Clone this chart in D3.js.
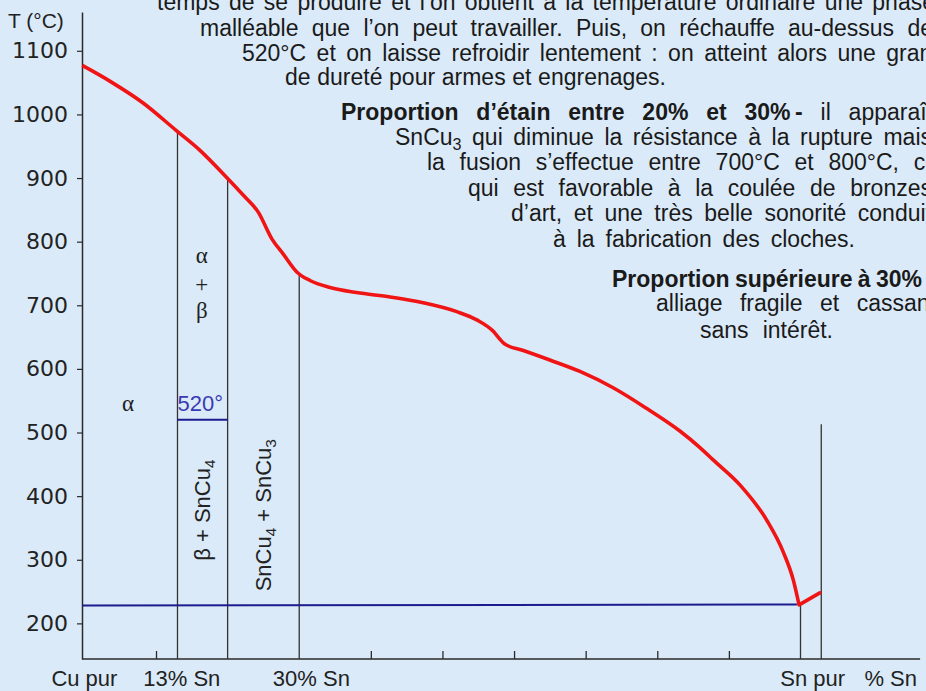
<!DOCTYPE html>
<html>
<head>
<meta charset="utf-8">
<script src="https://cdn.jsdelivr.net/npm/d3@7"></script>
<style>
body { margin: 0; background: #daeaf8; }
svg { display: block; }
</style>
</head>
<body>
<svg width="926" height="691"></svg>
<script>
// températures (°C) et proportions d'étain (%)
const tempTicks = [200, 300, 400, 500, 600, 700, 800, 900, 1000, 1100];
const pctTicks = [10, 40, 50, 60, 70, 80, 90];

// courbe du liquidus [% Sn, T]
const liquidus = [
    [-0.3, 1077], [3.6, 1052], [8.2, 1018], [12.8, 975], [16.1, 944], [19.7, 903],
    [22.2, 873], [24.3, 846], [26.2, 804], [27.8, 780], [29.7, 752], [31.5, 739],
    [34.3, 728], [38, 720], [42.7, 713], [47.3, 704], [52, 690], [54.8, 677],
    [57.1, 659], [58, 647], [58.7, 639], [61.3, 629], [65, 614], [69.2, 596],
    [73.9, 570], [78.5, 538], [83.2, 502], [86, 476], [87.8, 457], [91.6, 417],
    [95.3, 362], [97.6, 312], [99, 268], [99.8, 229]
];
// remontée après le point de fusion de l'étain
const tinBranch = [[99.8, 229], [102.7, 248]];

// lignes verticales [% Sn, T haut]
const phaseLines = [[13, 973], [20, 902], [30, 750], [100, 229], [102.9, 513]];
const eutectic = [[-0.3, 228], [99.5, 229.6]];
const line520 = [[13, 520], [20, 520]];

const xLabels = ["Cu pur", "13% Sn", "30% Sn", "Sn pur", "% Sn"];
const xLabelPct = [0, 13.6, 31.7, 101.7, 112.6];

const greekText = ["α", "α", "+", "β"];
const greekPos = [[6.1, 534], [16.4, 766], [16.4, 721], [16.4, 680]];

const rotatedText = [
    [["β + SnCu"], ["4", "sub"]],
    [["SnCu"], ["4", "sub"], [" + SnCu"], ["3", "sub"]]
];
const rotatedPos = [[16.4, 378], [24.9, 370]];

const textLines = [
    [["temps de se produire et l’on obtient à la température ordinaire une phase"]],
    [["malléable que l’on peut travailler. Puis, on réchauffe au-dessus de"]],
    [["520°C et on laisse refroidir lentement : on atteint alors une gran-"]],
    [["de dureté pour armes et engrenages."]],
    [["Proportion d’étain entre 20% et 30%\u2009-", "b"], [" il apparaît"]],
    [["SnCu"], ["3", "sub"], [" qui diminue la résistance à la rupture mais"]],
    [["la fusion s’effectue entre 700°C et 800°C, ce"]],
    [["qui est favorable à la coulée de bronzes"]],
    [["d’art, et une très belle sonorité conduit"]],
    [["à la fabrication des cloches."]],
    [["Proportion supérieure à 30%", "b"]],
    [["alliage fragile et cassant"]],
    [["sans intérêt."]]
];

// x début, ligne de base, x fin
const lineLayout = [
    [157, 10, 935], [200, 36, 933], [242, 61, 940], [285, 85, 666],
    [341, 120, 933], [395, 145, 932], [427, 170, 938], [468, 196, 932],
    [511, 221, 932], [553, 247, 855],
    [612, 287, 922], [656, 311, 936], [700, 338, 833]
];

const svg = d3.select("svg");

svg.append("rect")
    .attr("width", 926)
    .attr("height", 691)
    .attr("fill", "#daeaf8");

const x = d3.scaleLinear().domain([0, 100]).range([84.4, 800.5]);
const y = d3.scaleLinear().domain([144, 1161]).range([659, 12]);

// axe vertical
const yAxis = svg.append("g")
    .attr("transform", "translate(82,0)")
    .call(d3.axisLeft(y)
        .tickValues(tempTicks)
        .tickFormat(d3.format("d"))
        .tickSize(5)
        .tickPadding(9)
        .tickSizeOuter(0));

yAxis.select(".domain").attr("stroke", "#2a2a2a").attr("stroke-width", 1.5);
yAxis.selectAll(".tick line").attr("stroke", "#2a2a2a").attr("stroke-width", 1.2);
yAxis.selectAll("text")
    .attr("font-family", "DejaVu Sans")
    .attr("font-size", 22)
    .attr("fill", "#222");

// axe horizontal
const xAxis = svg.append("g")
    .attr("transform", "translate(0,659)")
    .call(d3.axisBottom(x).tickValues(pctTicks).tickSize(-8).tickFormat(""));

xAxis.select(".domain").remove();
xAxis.selectAll(".tick line").attr("stroke", "#2a2a2a").attr("stroke-width", 1.3);

svg.append("line")
    .attr("x1", 82)
    .attr("x2", x(116.7))
    .attr("y1", 659)
    .attr("y2", 659)
    .attr("stroke", "#2a2a2a")
    .attr("stroke-width", 1.5);

svg.selectAll(".xlabel")
    .data(xLabels)
    .enter()
    .append("text")
    .attr("class", "xlabel")
    .attr("x", (d, i) => x(xLabelPct[i]))
    .attr("y", 686)
    .attr("text-anchor", "middle")
    .attr("font-family", "Liberation Sans")
    .attr("font-size", 22)
    .attr("fill", "#222")
    .text(d => d);

svg.append("text")
    .attr("x", 8)
    .attr("y", 28)
    .attr("font-family", "Liberation Sans")
    .attr("font-size", 21)
    .attr("fill", "#222")
    .text("T (°C)");

// lignes verticales
svg.selectAll(".phase")
    .data(phaseLines)
    .enter()
    .append("line")
    .attr("class", "phase")
    .attr("x1", d => x(d[0]))
    .attr("x2", d => x(d[0]))
    .attr("y1", y(144))
    .attr("y2", d => y(d[1]))
    .attr("stroke", "#333")
    .attr("stroke-width", 1.3);

const line = d3.line()
    .x(d => x(d[0]))
    .y(d => y(d[1]));

svg.append("path")
    .datum(eutectic)
    .attr("d", line)
    .attr("fill", "none")
    .attr("stroke", "#1c1c8e")
    .attr("stroke-width", 2);

svg.append("path")
    .datum(line520)
    .attr("d", line)
    .attr("fill", "none")
    .attr("stroke", "#1c1c8e")
    .attr("stroke-width", 2);

svg.append("text")
    .attr("x", x(13))
    .attr("y", y(534))
    .attr("font-family", "Liberation Sans")
    .attr("font-size", 22)
    .attr("fill", "#3a3ab4")
    .text("520°");

const smooth = d3.line()
    .x(d => x(d[0]))
    .y(d => y(d[1]))
    .curve(d3.curveMonotoneX);

svg.append("path")
    .datum(liquidus)
    .attr("d", smooth)
    .attr("fill", "none")
    .attr("stroke", "#f01414")
    .attr("stroke-width", 3.6)
    .attr("stroke-linejoin", "round");

svg.append("path")
    .datum(tinBranch)
    .attr("d", line)
    .attr("fill", "none")
    .attr("stroke", "#f01414")
    .attr("stroke-width", 3.6)
    .attr("stroke-linecap", "round");

// lettres grecques
svg.selectAll(".greek")
    .data(greekText)
    .enter()
    .append("text")
    .attr("class", "greek")
    .attr("x", (d, i) => x(greekPos[i][0]))
    .attr("y", (d, i) => y(greekPos[i][1]))
    .attr("text-anchor", "middle")
    .attr("font-family", "Liberation Serif")
    .attr("font-size", 23)
    .attr("fill", "#222")
    .text(d => d);

function addSegments(t, segs, fs) {
    let shifted = false;
    segs.forEach(function(s) {
        const ts = t.append("tspan").text(s[0]);
        if (s[1] == "b") {
            ts.attr("font-weight", "bold");
        }
        if (s[1] == "sub") {
            ts.attr("dy", fs * 0.22).attr("font-size", fs * 0.7);
            shifted = true;
        } else if (shifted) {
            ts.attr("dy", -fs * 0.22);
            shifted = false;
        }
    });
}

rotatedText.forEach(function(segs, i) {
    const t = svg.append("text")
        .attr("transform", "translate(" + x(rotatedPos[i][0]) + "," + y(rotatedPos[i][1]) + ") rotate(-90)")
        .attr("y", 8)
        .attr("text-anchor", "middle")
        .attr("font-family", "Liberation Sans")
        .attr("font-size", 22)
        .attr("fill", "#222");
    addSegments(t, segs, 22);
});

// texte explicatif
textLines.forEach(function(segs, i) {
    const lay = lineLayout[i];
    const t = svg.append("text")
        .attr("x", lay[0])
        .attr("y", lay[1])
        .attr("font-family", "Liberation Sans")
        .attr("font-size", 23)
        .attr("fill", "#1a1a1a");
    addSegments(t, segs, 23);

    const natural = t.node().getComputedTextLength();
    const spaces = (t.text().match(/ /g) || []).length;
    if (spaces > 0) {
        t.style("word-spacing", ((lay[2] - lay[0] - natural) / spaces) + "px");
    }
});
</script>
</body>
</html>
